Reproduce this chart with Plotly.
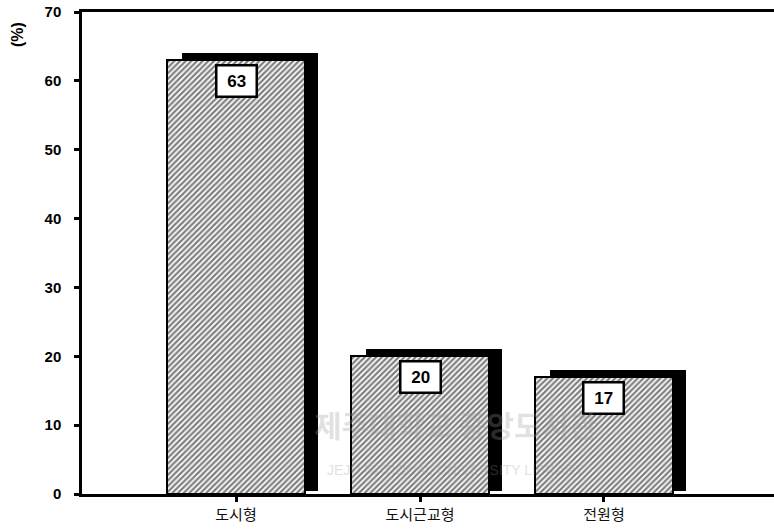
import plotly.graph_objects as go

# Residential preference by area type (%)
categories = ["도시형", "도시근교형", "전원형"]
values = [63, 20, 17]
y_ticks = [0, 10, 20, 30, 40, 50, 60, 70]

xpos = list(range(len(categories)))
bar_w = 0.75
shadow_dx = 0.08
shadow_dy = 1.0
shadow_base = 0.5

fig = go.Figure()

# drop shadow behind each bar
fig.add_trace(go.Bar(
    x=xpos,
    y=[v + shadow_dy - shadow_base for v in values],
    base=shadow_base,
    width=bar_w - 0.01,
    offset=-bar_w / 2 + shadow_dx,
    marker=dict(color="black", line=dict(width=0)),
    hoverinfo="skip",
    showlegend=False,
))

# hatched bars
fig.add_trace(go.Bar(
    x=xpos,
    y=values,
    width=bar_w,
    offset=-bar_w / 2,
    marker=dict(
        color="white",
        line=dict(color="black", width=2),
        pattern=dict(shape="/", fgcolor="black", bgcolor="white",
                     size=4, solidity=0.55, fillmode="overlay"),
    ),
    showlegend=False,
))

annotations = []
for x, v in zip(xpos, values):
    annotations.append(dict(
        x=x, y=v, xref="x", yref="y", text=f"<b>&nbsp;{v}&nbsp;</b>",
        showarrow=False, yanchor="top", yshift=-4,
        font=dict(family="Liberation Sans, Arial", size=17, color="black"),
        bgcolor="white", bordercolor="black", borderwidth=2.5, borderpad=5,
    ))

# unit label
annotations.append(dict(
    x=(17 - 82) / 692, y=1 - (35 - 12) / 482, xref="paper", yref="paper",
    xanchor="center", yanchor="middle",
    text="<b>(%)</b>", textangle=-90, showarrow=False,
    font=dict(family="Liberation Sans, Arial", size=16, color="black"),
))

# faint library watermark
annotations.append(dict(
    x=0.54, y=0.095, xref="paper", yref="paper", text="<b>제주대학교 중앙도서관</b>",
    showarrow=False, font=dict(family="Noto Sans CJK KR", size=30, color="rgba(150,150,150,0.3)"),
))
annotations.append(dict(
    x=0.54, y=0.03, xref="paper", yref="paper", text="JEJU NATIONAL UNIVERSITY LIBRARY",
    showarrow=False, font=dict(family="Liberation Sans, Arial", size=14, color="rgba(150,150,150,0.3)"),
))

fig.update_layout(
    width=774, height=529,
    margin=dict(l=82, r=0, t=12, b=35),
    paper_bgcolor="white", plot_bgcolor="white",
    barmode="overlay",
    bargap=0,
    annotations=annotations,
    xaxis=dict(
        range=[-0.837, 2.924],
        tickmode="array", tickvals=xpos, ticktext=categories,
        showline=True, linecolor="black", linewidth=2.5, mirror=True,
        ticks="outside", ticklen=5, tickwidth=2.5, tickcolor="black",
        tickfont=dict(family="Noto Sans CJK KR", size=15, color="#111111"),
        showgrid=False, zeroline=False, fixedrange=True,
    ),
    yaxis=dict(
        range=[0, 70],
        tickmode="array", tickvals=y_ticks,
        showline=True, linecolor="black", linewidth=2.5,
        ticks="outside", ticklen=5, tickwidth=2.5, tickcolor="black",
        ticklabelstandoff=10,
        tickfont=dict(family="Liberation Sans, Arial", size=15, color="black", weight="bold"),
        showgrid=False, zeroline=False, fixedrange=True,
    ),
)

fig.write_html("out.html")
